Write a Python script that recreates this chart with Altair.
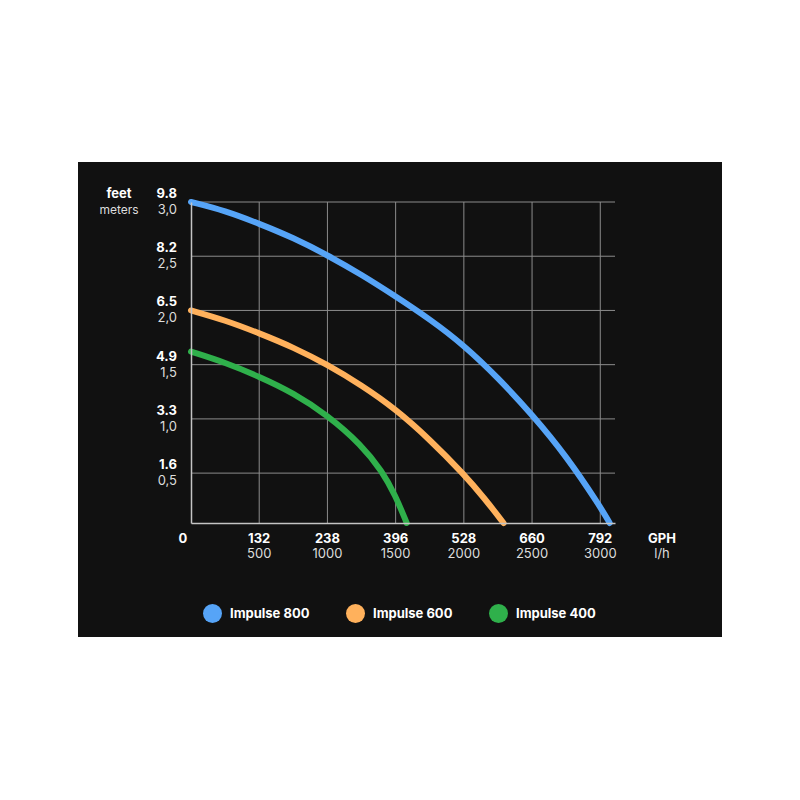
import altair as alt
import pandas as pd

# ---- data ----
series_names = ["Impulse 800", "Impulse 600", "Impulse 400"]
series_colors = ["#56a4f7", "#ffb15c", "#2fb04b"]

lph_800 = [0, 250, 500, 750, 1000, 1250, 1500, 1750, 2000, 2250, 2500, 2750, 3000, 3069]
m_800 = [3.0, 2.92, 2.80, 2.67, 2.51, 2.33, 2.13, 1.92, 1.68, 1.38, 1.04, 0.66, 0.19, 0.04]

lph_600 = [0, 250, 500, 750, 1000, 1250, 1500, 1750, 2000, 2150, 2291]
m_600 = [2.0, 1.91, 1.79, 1.66, 1.50, 1.31, 1.09, 0.81, 0.49, 0.27, 0.04]

lph_400 = [0, 250, 500, 750, 1000, 1250, 1400, 1500, 1581]
m_400 = [1.62, 1.52, 1.39, 1.24, 1.035, 0.76, 0.52, 0.29, 0.04]

y_meter_vals = [3.0, 2.5, 2.0, 1.5, 1.0, 0.5]
y_feet_labels = ["9.8", "8.2", "6.5", "4.9", "3.3", "1.6"]
y_meter_labels = ["3,0", "2,5", "2,0", "1,5", "1,0", "0,5"]

x_lph_vals = [500, 1000, 1500, 2000, 2500, 3000]
x_gph_labels = ["132", "238", "396", "528", "660", "792"]
x_lph_labels = ["500", "1000", "1500", "2000", "2500", "3000"]
zero_label = "0"

x_domain = [0, 3108]
y_domain = [0.04, 3.0]

W, H = 424, 321
FONT = "Inter"

rows = []
for name, xs_, ys_ in [("Impulse 800", lph_800, m_800),
                       ("Impulse 600", lph_600, m_600),
                       ("Impulse 400", lph_400, m_400)]:
    for i, (a, b) in enumerate(zip(xs_, ys_)):
        rows.append({"series": name, "lph": a, "m": b, "i": i})
curves = pd.DataFrame(rows)

ydf = pd.DataFrame({"m": y_meter_vals, "feet": y_feet_labels, "meters": y_meter_labels})
xdf = pd.DataFrame({"lph": x_lph_vals, "gph": x_gph_labels, "lphl": x_lph_labels})
zdf = pd.DataFrame({"lph": [0], "t": [zero_label]})

xs = alt.Scale(domain=x_domain, nice=False, zero=False)
ys = alt.Scale(domain=y_domain, nice=False, zero=False)

# dark panel behind the chart
panel = alt.Chart(alt.Data(values=[{}])).mark_rect(color="#111111").encode(
    x=alt.value(-113), x2=alt.value(531), y=alt.value(-40), y2=alt.value(435)
)

vgrid = alt.Chart(xdf).mark_rule(color="#8c8c8c", strokeWidth=1).encode(
    x=alt.X("lph:Q", scale=xs,
            axis=alt.Axis(labels=False, ticks=False, grid=False, title=None,
                          domainColor="#c4c4c4", domainWidth=1.5, zindex=1))
)
hgrid = alt.Chart(ydf).mark_rule(color="#8c8c8c", strokeWidth=1).encode(
    y=alt.Y("m:Q", scale=ys,
            axis=alt.Axis(labels=False, ticks=False, grid=False, title=None,
                          domainColor="#c4c4c4", domainWidth=1.5, zindex=1))
)

lines = alt.Chart(curves).mark_line(
    interpolate="basis", strokeWidth=6, strokeCap="round"
).encode(
    x=alt.X("lph:Q", scale=xs),
    y=alt.Y("m:Q", scale=ys),
    color=alt.Color("series:N", scale=alt.Scale(domain=series_names, range=series_colors),
                    legend=None),
    order="i:Q",
)

legend_layer = alt.Chart(curves).transform_filter("false").mark_circle().encode(
    x=alt.X("lph:Q", scale=xs),
    y=alt.Y("m:Q", scale=ys),
    fill=alt.Fill("series:N",
                  scale=alt.Scale(domain=series_names, range=series_colors),
                  legend=alt.Legend(
                      title=None, orient="none", legendX=12, legendY=402,
                      direction="horizontal", symbolType="circle", symbolSize=361,
                      symbolStrokeWidth=0, symbolOpacity=1, labelFont=FONT,
                      labelFontSize=13, labelFontWeight="bold", labelColor="#ffffff",
                      labelOffset=8, columnPadding=36, padding=0,
                  )),
)

feet_txt = alt.Chart(ydf).mark_text(
    align="right", baseline="middle", dy=-8, font=FONT, fontSize=13,
    fontWeight="bold", color="#ffffff"
).encode(x=alt.value(-14), y=alt.Y("m:Q", scale=ys), text="feet:N")

meter_txt = alt.Chart(ydf).mark_text(
    align="right", baseline="middle", dy=8, font=FONT, fontSize=13,
    fontWeight="normal", color="#dddddd"
).encode(x=alt.value(-14), y=alt.Y("m:Q", scale=ys), text="meters:N")

gph_txt = alt.Chart(xdf).mark_text(
    align="center", baseline="middle", font=FONT, fontSize=13,
    fontWeight="bold", color="#ffffff"
).encode(x=alt.X("lph:Q", scale=xs), y=alt.value(H + 15.5), text="gph:N")

lph_txt = alt.Chart(xdf).mark_text(
    align="center", baseline="middle", font=FONT, fontSize=13,
    fontWeight="normal", color="#dddddd"
).encode(x=alt.X("lph:Q", scale=xs), y=alt.value(H + 30.5), text="lphl:N")

zero_txt = alt.Chart(zdf).mark_text(
    align="center", baseline="middle", dx=-8, font=FONT, fontSize=13,
    fontWeight="bold", color="#ffffff"
).encode(x=alt.X("lph:Q", scale=xs), y=alt.value(H + 15.5), text="t:N")

unit_df = pd.DataFrame({"t": ["GPH", "l/h"], "row": [0, 1]})
gph_unit = alt.Chart(unit_df).transform_filter("datum.row == 0").mark_text(
    align="center", baseline="middle", font=FONT, fontSize=13,
    fontWeight="bold", color="#ffffff"
).encode(x=alt.value(471), y=alt.value(H + 15.5), text="t:N")
lph_unit = alt.Chart(unit_df).transform_filter("datum.row == 1").mark_text(
    align="center", baseline="middle", font=FONT, fontSize=13,
    fontWeight="normal", color="#dddddd"
).encode(x=alt.value(471), y=alt.value(H + 30.5), text="t:N")

ylab_df = pd.DataFrame({"t": ["feet", "meters"], "row": [0, 1]})
feet_title = alt.Chart(ylab_df).transform_filter("datum.row == 0").mark_text(
    align="center", baseline="middle", font=FONT, fontSize=13,
    fontWeight="bold", color="#ffffff"
).encode(x=alt.value(-72), y=alt.value(-8.5), text="t:N")
meters_title = alt.Chart(ylab_df).transform_filter("datum.row == 1").mark_text(
    align="center", baseline="middle", font=FONT, fontSize=12,
    fontWeight="normal", color="#dddddd"
).encode(x=alt.value(-72), y=alt.value(7.5), text="t:N")

chart = alt.layer(
    panel, vgrid, hgrid, lines, legend_layer,
    feet_txt, meter_txt, gph_txt, lph_txt, zero_txt,
    gph_unit, lph_unit, feet_title, meters_title,
).resolve_scale(color="independent", fill="independent").properties(
    width=W, height=H,
    autosize=alt.AutoSizeParams(type="none"),
    padding={"left": 183, "top": 194, "right": 177, "bottom": 269},
    background="#ffffff",
).configure_view(stroke=None)

chart.save("out.html", embed_options={"renderer": "svg", "actions": False})
